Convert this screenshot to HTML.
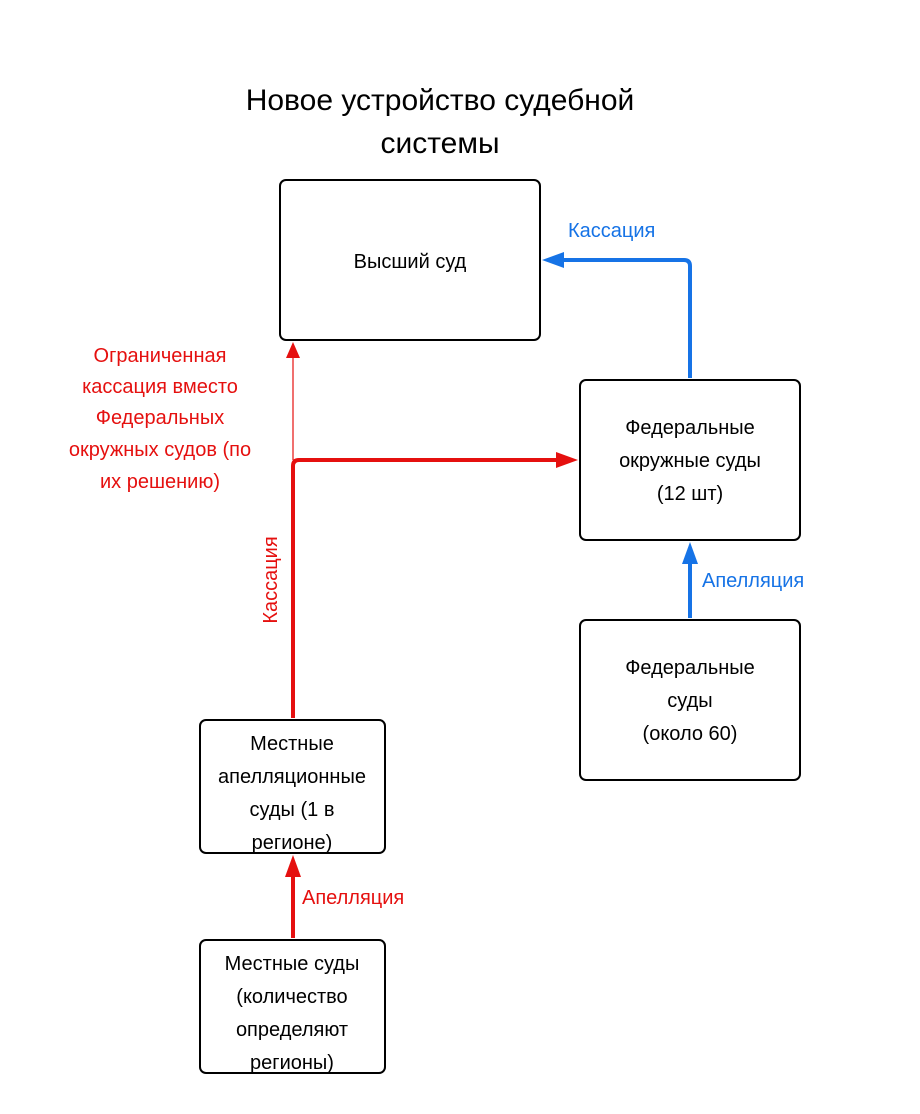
<!DOCTYPE html>
<html><head><meta charset="utf-8"><style>
html,body{margin:0;padding:0;background:#fff}
svg{display:block}
text{font-family:"Liberation Sans","DejaVu Sans",sans-serif}
</style></head><body>
<svg width="920" height="1114" viewBox="0 0 920 1114" xmlns="http://www.w3.org/2000/svg">
<rect width="920" height="1114" fill="#fff"/>
<g font-size="30" fill="#000" text-anchor="middle">
<text x="440" y="110">Новое устройство судебной</text>
<text x="440" y="153">системы</text>
</g>
<g fill="none" stroke="#000" stroke-width="2">
<rect x="280" y="180" width="260" height="160" rx="6"/>
<rect x="580" y="380" width="220" height="160" rx="6"/>
<rect x="580" y="620" width="220" height="160" rx="6"/>
<rect x="200" y="720" width="185" height="133" rx="6"/>
<rect x="200" y="940" width="185" height="133" rx="6"/>
</g>
<g font-size="20" fill="#000" text-anchor="middle">
<text x="410" y="268">Высший суд</text>
<text x="690" y="434">Федеральные</text>
<text x="690" y="467">окружные суды</text>
<text x="690" y="500">(12 шт)</text>
<text x="690" y="674">Федеральные</text>
<text x="690" y="707">суды</text>
<text x="690" y="740">(около 60)</text>
<text x="292" y="750">Местные</text>
<text x="292" y="783">апелляционные</text>
<text x="292" y="816">суды (1 в</text>
<text x="292" y="849">регионе)</text>
<text x="292" y="970">Местные суды</text>
<text x="292" y="1003">(количество</text>
<text x="292" y="1036">определяют</text>
<text x="292" y="1069">регионы)</text>
</g>
<!-- red connectors -->
<g stroke="#e5100f" fill="none">
<path d="M293 718 V466 Q293 460 299 460 H562" stroke-width="4"/>
<path d="M293 460 V356" stroke-width="1.2"/>
<path d="M293 938 V872" stroke-width="4"/>
</g>
<g fill="#e5100f">
<polygon points="578,460 556,452 556,468"/>
<polygon points="293,342 286,358 300,358"/>
<polygon points="293,855 285,877 301,877"/>
</g>
<!-- blue connectors -->
<g stroke="#1673e6" fill="none" stroke-width="4">
<path d="M690 378 V266 Q690 260 684 260 H560"/>
<path d="M690 618 V560"/>
</g>
<g fill="#1673e6">
<polygon points="542,260 564,252 564,268"/>
<polygon points="690,542 682,564 698,564"/>
</g>
<g font-size="20" fill="#1673e6">
<text x="568" y="237">Кассация</text>
<text x="702" y="587">Апелляция</text>
</g>
<g font-size="20" fill="#e5100f">
<text x="302" y="904">Апелляция</text>
<g text-anchor="middle">
<text x="160" y="362">Ограниченная</text>
<text x="160" y="393">кассация вместо</text>
<text x="160" y="424">Федеральных</text>
<text x="160" y="456">окружных судов (по</text>
<text x="160" y="488">их решению)</text>
</g>
<text transform="translate(277,580) rotate(-90)" text-anchor="middle">Кассация</text>
</g>
</svg>
</body></html>
